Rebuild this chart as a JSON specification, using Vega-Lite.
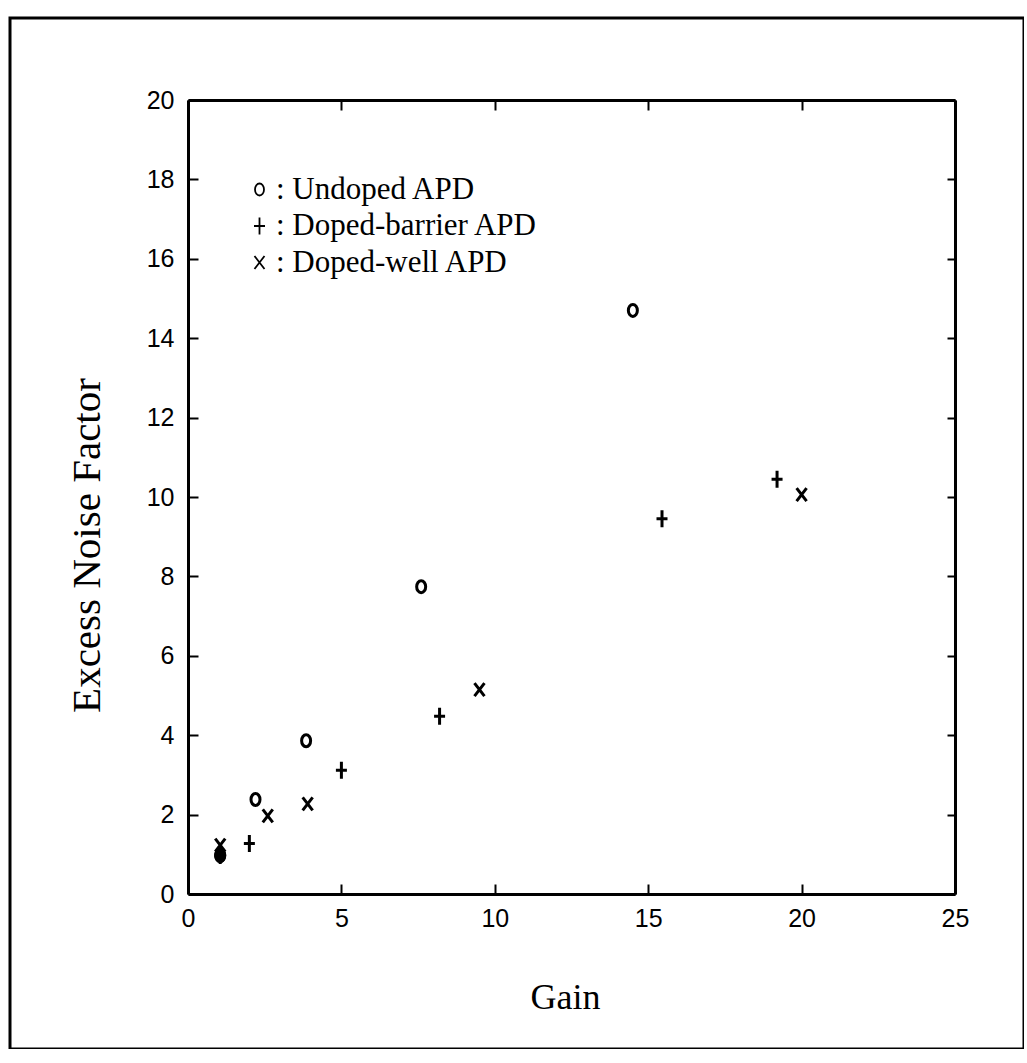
{
  "$schema": "https://vega.github.io/schema/vega-lite/v6.json",
  "width": 1014,
  "height": 1031,
  "autosize": {"type": "none"},
  "padding": {"left": 10, "top": 18, "right": 0, "bottom": 0},
  "background": "white",
  "config": {
    "view": {"stroke": "black", "strokeWidth": 3},
    "axis": {
      "domainColor": "black", "domainWidth": 3,
      "tickColor": "black", "tickWidth": 2, "tickSize": -10,
      "grid": false,
      "labelColor": "black", "labelFont": "Liberation Sans", "labelFontSize": 25,
      "titleColor": "black", "titleFont": "Liberation Serif", "titleFontWeight": "normal"
    }
  },
  "data": {
    "values": [
      {"series": "Undoped APD", "gain": 1.05, "noise": 0.97},
      {"series": "Undoped APD", "gain": 2.2, "noise": 2.38},
      {"series": "Undoped APD", "gain": 3.85, "noise": 3.86},
      {"series": "Undoped APD", "gain": 7.6, "noise": 7.74},
      {"series": "Undoped APD", "gain": 14.5, "noise": 14.7},
      {"series": "Doped-barrier APD", "gain": 1.05, "noise": 0.97},
      {"series": "Doped-barrier APD", "gain": 2.0, "noise": 1.27},
      {"series": "Doped-barrier APD", "gain": 5.0, "noise": 3.12},
      {"series": "Doped-barrier APD", "gain": 8.2, "noise": 4.48},
      {"series": "Doped-barrier APD", "gain": 15.45, "noise": 9.45},
      {"series": "Doped-barrier APD", "gain": 19.2, "noise": 10.45},
      {"series": "Doped-well APD", "gain": 1.05, "noise": 1.23},
      {"series": "Doped-well APD", "gain": 2.6, "noise": 1.97},
      {"series": "Doped-well APD", "gain": 3.9, "noise": 2.27},
      {"series": "Doped-well APD", "gain": 9.5, "noise": 5.15},
      {"series": "Doped-well APD", "gain": 20.0, "noise": 10.06}
    ]
  },
  "layer": [
    {
      "mark": {"type": "point", "filled": false, "strokeWidth": 3, "color": "black", "opacity": 1, "size": 400},
      "encoding": {
        "x": {
          "field": "gain", "type": "quantitative",
          "scale": {"domain": [0, 25], "range": [178, 945], "nice": false, "zero": false},
          "axis": {"orient": "bottom", "offset": -155, "values": [0, 5, 10, 15, 20, 25], "title": "Gain", "titleFontSize": 36, "titlePadding": 49, "titleX": 555, "labelPadding": 22, "labelFlush": false}
        },
        "y": {
          "field": "noise", "type": "quantitative",
          "scale": {"domain": [0, 20], "range": [876, 82], "nice": false, "zero": false},
          "axis": {"orient": "left", "offset": -178, "values": [0, 2, 4, 6, 8, 10, 12, 14, 16, 18, 20], "title": "Excess Noise Factor", "titleFontSize": 41, "titlePadding": 38, "titleY": 527, "labelPadding": 24, "labelFlush": false}
        },
        "shape": {
          "field": "series", "type": "nominal",
          "scale": {
            "domain": ["Undoped APD", "Doped-barrier APD", "Doped-well APD"],
            "range": [
              "M0,-0.6A0.45,0.6 0 1,1 0,0.6A0.45,0.6 0 1,1 0,-0.6Z",
              "M-0.55,0L0.55,0M0,-0.85L0,0.85",
              "M-0.5,-0.65L0.5,0.65M-0.5,0.65L0.5,-0.65"
            ]
          },
          "legend": {
            "orient": "none", "legendX": 234, "legendY": 156,
            "title": null,
            "labelFont": "Liberation Serif", "labelFontSize": 31, "labelColor": "black",
            "labelExpr": "': ' + datum.label", "labelLimit": 0,
            "symbolStrokeColor": "black", "symbolStrokeWidth": 1.8, "symbolSize": 400,
            "rowPadding": 4.5, "labelOffset": 1, "padding": 0
          }
        }
      }
    },
    {
      "transform": [{"filter": "datum.series === 'Undoped APD' && datum.gain < 1.1"}],
      "mark": {"type": "point", "filled": true, "color": "black", "opacity": 1, "size": 400, "shape": "M0,-0.75A0.6,0.75 0 1,1 0,0.75A0.6,0.75 0 1,1 0,-0.75Z"},
      "encoding": {
        "x": {"field": "gain", "type": "quantitative", "axis": null},
        "y": {"field": "noise", "type": "quantitative", "axis": null}
      }
    },
    {
      "mark": {"type": "point", "opacity": 0},
      "encoding": {
        "x": {
          "field": "gain", "type": "quantitative",
          "axis": {"orient": "top", "offset": -82, "values": [0, 5, 10, 15, 20, 25], "labels": false, "title": null}
        },
        "y": {
          "field": "noise", "type": "quantitative",
          "axis": {"orient": "right", "offset": -69, "values": [0, 2, 4, 6, 8, 10, 12, 14, 16, 18, 20], "labels": false, "title": null, "tickSize": -8}
        }
      }
    }
  ],
  "resolve": {"axis": {"x": "independent", "y": "independent"}}
}
